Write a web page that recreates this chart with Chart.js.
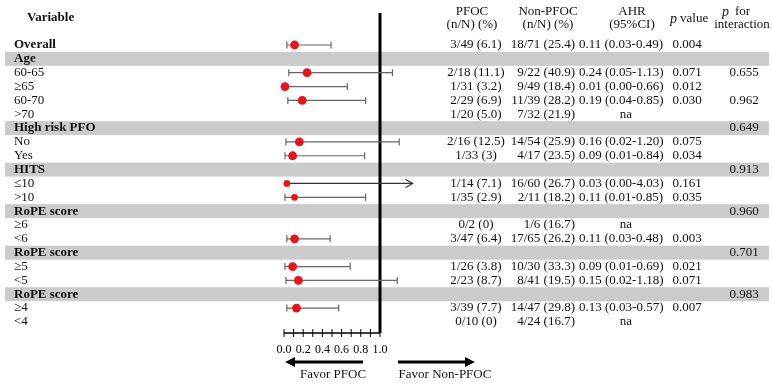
<!DOCTYPE html>
<html>
<head>
<meta charset="utf-8">
<script src="https://cdn.jsdelivr.net/npm/chart.js@4.4.1/dist/chart.umd.min.js"></script>
<style>
  body { margin: 0; background: #ffffff; }
  #wrap { width: 772px; height: 385px; }
</style>
</head>
<body>
<div id="wrap"><canvas id="forest" width="772" height="385"></canvas></div>
<script>
// ---- datos de la tabla (una fila por entrada) ----
const rowLabels = ['Overall', 'Age', '60-65', '≥65', '60-70', '>70', 'High risk PFO', 'No', 'Yes',
  'HITS', '≤10', '>10', 'RoPE score', '≥6', '<6', 'RoPE score', '≥5', '<5', 'RoPE score', '≥4', '<4'];
// 'top' = Overall, 'group' = grey band, 'sub' = subgroup row
const rowType = ['top', 'group', 'sub', 'sub', 'sub', 'sub', 'group', 'sub', 'sub',
  'group', 'sub', 'sub', 'group', 'sub', 'sub', 'group', 'sub', 'sub', 'group', 'sub', 'sub'];
const pfocText = ['3/49 (6.1)', '', '2/18 (11.1)', '1/31 (3.2)', '2/29 (6.9)', '1/20 (5.0)', '', '2/16 (12.5)', '1/33 (3)',
  '', '1/14 (7.1)', '1/35 (2.9)', '', '0/2 (0)', '3/47 (6.4)', '', '1/26 (3.8)', '2/23 (8.7)', '', '3/39 (7.7)', '0/10 (0)'];
const nonPfocText = ['18/71 (25.4)', '', '9/22 (40.9)', '9/49 (18.4)', '11/39 (28.2)', '7/32 (21.9)', '', '14/54 (25.9)', '4/17 (23.5)',
  '', '16/60 (26.7)', '2/11 (18.2)', '', '1/6 (16.7)', '17/65 (26.2)', '', '10/30 (33.3)', '8/41 (19.5)', '', '14/47 (29.8)', '4/24 (16.7)'];
const ahr    = [0.11, null, 0.24, 0.01, 0.19, null, null, 0.16, 0.09, null, 0.03, 0.11, null, null, 0.11, null, 0.09, 0.15, null, 0.13, null];
const ciLow  = [0.03, null, 0.05, 0.00, 0.04, null, null, 0.02, 0.01, null, 0.00, 0.01, null, null, 0.03, null, 0.01, 0.02, null, 0.03, null];
const ciHigh = [0.49, null, 1.13, 0.66, 0.85, null, null, 1.20, 0.84, null, 4.03, 0.85, null, null, 0.48, null, 0.69, 1.18, null, 0.57, null];
const pValue = ['0.004', '', '0.071', '0.012', '0.030', '', '', '0.075', '0.034', '', '0.161', '0.035', '', '', '0.003', '', '0.021', '0.071', '', '0.007', ''];
const pInteraction = ['', '', '0.655', '', '0.962', '', '0.649', '', '', '0.913', '', '', '0.960', '', '', '0.701', '', '', '0.983', '', ''];
const xTicks = [0, 0.1, 0.2, 0.3, 0.4, 0.5, 0.6, 0.7, 0.8, 0.9, 1.0];
const arrowLimit = 1.34;   // CI beyond this value is drawn as an arrow

const SERIF = '"Liberation Serif", "Times New Roman", serif';
const smallDotRows = [10, 11];

// puntos (estimación AHR)
const points = [];
const radii = [];
ahr.forEach((v, i) => {
  if (v === null) return;
  points.push({ x: v, y: i });
  radii.push(smallDotRows.includes(i) ? 3.4 : 4.4);
});

function fmt(v) { return v.toFixed(2); }

const forestPlugin = {
  id: 'forestPlugin',
  beforeDatasetsDraw(chart) {
    const ctx = chart.ctx;
    const xs = chart.scales.x;
    const ys = chart.scales.y;
    const area = chart.chartArea;
    ctx.save();
    // bandas grises
    ctx.fillStyle = '#cbcbcb';
    rowType.forEach((t, i) => {
      if (t !== 'group') return;
      const yp = ys.getPixelForValue(i);
      ctx.fillRect(5, yp - 7, 764, 14);
    });
    // línea de referencia en 1.0
    const x1 = xs.getPixelForValue(1);
    ctx.strokeStyle = '#000';
    ctx.lineWidth = 3;
    ctx.beginPath();
    ctx.moveTo(x1, 13);
    ctx.lineTo(x1, area.bottom);
    ctx.stroke();
    // intervalos de confianza
    ahr.forEach((v, i) => {
      if (v === null) return;
      const yp = ys.getPixelForValue(i);
      const xl = xs.getPixelForValue(ciLow[i]);
      const arrow = ciHigh[i] > arrowLimit;
      const xh = xs.getPixelForValue(arrow ? arrowLimit : ciHigh[i]);
      ctx.lineWidth = 1.2;
      ctx.strokeStyle = arrow ? '#333' : '#666';
      ctx.beginPath();
      ctx.moveTo(xl, yp);
      ctx.lineTo(xh, yp);
      ctx.stroke();
      if (arrow) {
        ctx.beginPath();
        ctx.moveTo(xh - 7, yp - 4);
        ctx.lineTo(xh, yp);
        ctx.lineTo(xh - 7, yp + 4);
        ctx.stroke();
      } else {
        ctx.beginPath();
        ctx.moveTo(xl, yp - 3.5); ctx.lineTo(xl, yp + 3.5);
        ctx.moveTo(xh, yp - 3.5); ctx.lineTo(xh, yp + 3.5);
        ctx.stroke();
      }
    });
    // eje x
    const yAxis = area.bottom;
    ctx.strokeStyle = '#000';
    ctx.lineWidth = 1.5;
    ctx.beginPath();
    ctx.moveTo(xs.getPixelForValue(0), yAxis);
    ctx.lineTo(xs.getPixelForValue(1), yAxis);
    ctx.stroke();
    ctx.lineWidth = 1;
    ctx.font = '12px ' + SERIF;
    ctx.fillStyle = '#000';
    ctx.textAlign = 'center';
    ctx.textBaseline = 'middle';
    xTicks.forEach((t, k) => {
      const xp = xs.getPixelForValue(t);
      ctx.beginPath();
      ctx.moveTo(xp, yAxis - 4);
      ctx.lineTo(xp, yAxis + 4);
      ctx.stroke();
      if (k % 2 === 0) ctx.fillText(t.toFixed(1), xp, yAxis + 17);
    });
    ctx.restore();
  },
  afterDraw(chart) {
    const ctx = chart.ctx;
    const xs = chart.scales.x;
    const ys = chart.scales.y;
    const area = chart.chartArea;
    ctx.save();
    ctx.fillStyle = '#111';
    ctx.textBaseline = 'middle';
    const font = (w, s) => (w ? 'bold ' : '') + s + 'px ' + SERIF;
    const italic = (s) => 'italic ' + s + 'px ' + SERIF;

    // cabeceras
    ctx.font = font(true, 13);
    ctx.textAlign = 'left';
    ctx.fillText('Variable', 27, 18);
    ctx.font = font(false, 13);
    ctx.textAlign = 'center';
    ctx.fillText('PFOC', 472, 12);
    ctx.fillText('(n/N) (%)', 472, 25);
    ctx.fillText('Non-PFOC', 548, 12);
    ctx.fillText('(n/N) (%)', 548, 25);
    ctx.fillText('AHR', 632, 12);
    ctx.fillText('(95%CI)', 632, 25);
    // "p value"
    ctx.textAlign = 'left';
    ctx.font = italic(14);
    ctx.fillText('p', 670, 19);
    ctx.font = font(false, 13);
    ctx.fillText('value', 680, 19);
    ctx.font = italic(14);
    ctx.fillText('p', 722, 12);
    ctx.font = font(false, 13);
    ctx.fillText('for', 735, 12);
    ctx.textAlign = 'center';
    ctx.fillText('interaction', 742, 25);

    // filas
    rowLabels.forEach((lab, i) => {
      const yp = ys.getPixelForValue(i);
      ctx.textAlign = 'left';
      ctx.font = font(rowType[i] !== 'sub', 13);
      ctx.fillText(lab, 14, yp);
      ctx.font = font(false, 13);
      if (pfocText[i]) { ctx.textAlign = 'center'; ctx.fillText(pfocText[i], 476, yp); }
      if (nonPfocText[i]) { ctx.textAlign = 'right'; ctx.fillText(nonPfocText[i], 575, yp); }
      if (rowType[i] !== 'group') {
        if (ahr[i] === null) {
          ctx.textAlign = 'center';
          ctx.fillText('na', 626, yp);
        } else {
          ctx.textAlign = 'left';
          ctx.fillText(fmt(ahr[i]) + ' (' + fmt(ciLow[i]) + '-' + fmt(ciHigh[i]) + ')', 579, yp);
        }
      }
      ctx.textAlign = 'center';
      if (pValue[i]) ctx.fillText(pValue[i], 687, yp);
      if (pInteraction[i]) ctx.fillText(pInteraction[i], 744, yp);
    });

    // flechas de "Favor"
    const yArr = area.bottom + 29;
    const drawArrow = (from, to) => {
      const dir = Math.sign(to - from);
      ctx.strokeStyle = '#000';
      ctx.lineWidth = 3;
      ctx.beginPath();
      ctx.moveTo(from, yArr);
      ctx.lineTo(to - dir * 8, yArr);
      ctx.stroke();
      ctx.fillStyle = '#000';
      ctx.beginPath();
      ctx.moveTo(to, yArr);
      ctx.lineTo(to - dir * 10, yArr - 5);
      ctx.lineTo(to - dir * 10, yArr + 5);
      ctx.closePath();
      ctx.fill();
    };
    drawArrow(363, 285);
    drawArrow(398, 475);
    ctx.fillStyle = '#111';
    ctx.font = font(false, 13);
    ctx.textAlign = 'center';
    ctx.fillText('Favor PFOC', 333, yArr + 13);
    ctx.fillText('Favor Non-PFOC', 445, yArr + 13);
    ctx.restore();
  }
};

new Chart(document.getElementById('forest').getContext('2d'), {
  type: 'scatter',
  data: {
    datasets: [{
      data: points,
      pointRadius: radii,
      pointBackgroundColor: '#e8141c',
      pointBorderWidth: 0,
      clip: false
    }]
  },
  options: {
    responsive: false,
    animation: false,
    events: [],
    layout: { padding: { left: 284, right: 392, top: 45, bottom: 52 } },
    plugins: { legend: { display: false }, tooltip: { enabled: false } },
    scales: {
      x: { type: 'linear', min: 0, max: 1, display: false },
      y: { type: 'linear', min: 0, max: 20.8, reverse: true, display: false }
    }
  },
  plugins: [forestPlugin]
});
</script>
</body>
</html>
